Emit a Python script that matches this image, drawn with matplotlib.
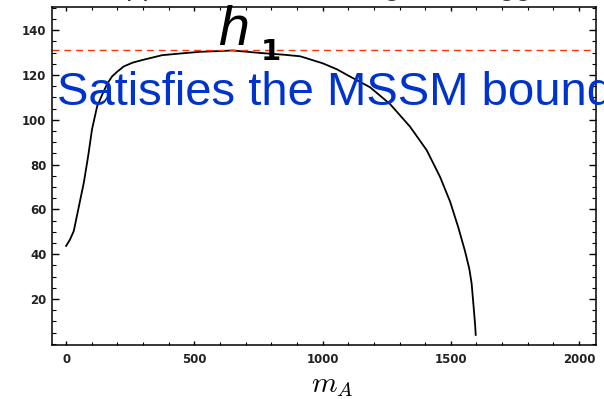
import numpy as np
import matplotlib
matplotlib.use("Agg")
import matplotlib.pyplot as plt
from matplotlib.ticker import MultipleLocator


# upper bound on lightest higgs mass vs m_A
m_A = [0, 15, 30, 47, 69, 86, 101, 121, 140, 160, 179, 200, 225, 260, 296,
       374, 450, 520, 650, 756, 850, 913, 1000, 1056, 1100, 1185, 1263, 1341,
       1406, 1458, 1497, 1529, 1555, 1572, 1581, 1590, 1595, 1597]
m_h1 = [43.7, 46.5, 50.4, 59.8, 71.9, 83.8, 95.7, 106, 111, 116, 119.3, 121.5,
        123.8, 125.5, 126.6, 128.8, 129.6, 130.3, 130.9, 129.8, 129.0, 128.3,
        125.2, 122.5, 119.7, 114.5, 107.0, 96.9, 86.4, 74.5, 63.5, 52, 41.5,
        33.5, 27, 15, 8, 4]
mssm_bound = 131.0

x_ticks = [0, 500, 1000, 1500, 2000]
y_ticks = [20, 40, 60, 80, 100, 120, 140]

W, H = 604, 399
fig = plt.figure(figsize=(W / 100, H / 100), dpi=100)
ax = fig.add_axes([52 / W, 1 - 345 / H, (596 - 52) / W, (345 - 7) / H])

ax.plot(m_A, m_h1, color='black', lw=1.3)
ax.axhline(mssm_bound, color='#ff3300', lw=1.0, ls=(0, (5, 3.5)))

ax.set_xlim(-55, 2066)
ax.set_ylim(-0.5, 150.3)
ax.set_xticks(x_ticks)
ax.set_yticks(y_ticks)
ax.xaxis.set_minor_locator(MultipleLocator(100))
ax.yaxis.set_minor_locator(MultipleLocator(5))

for s in ax.spines.values():
    s.set_linewidth(1.1)

ax.tick_params(axis='x', which='major', direction='in', length=3, width=1.0,
               top=True, pad=6)
ax.tick_params(axis='x', which='minor', direction='in', length=2, width=0.8,
               top=True)
ax.tick_params(axis='y', which='major', direction='in', length=5, width=1.0,
               right=True, pad=4)
ax.tick_params(axis='y', which='minor', direction='in', length=3, width=0.8,
               right=True)
for lab in ax.get_xticklabels() + ax.get_yticklabels():
    lab.set_fontsize(8.5)
    lab.set_fontweight('bold')
    lab.set_color('#222222')

plt.rcParams['mathtext.fontset'] = 'cm'
fig.text(311 / W, 1 - 392 / H, r'$m_A$', fontsize=21, va='baseline', ha='left')

# title, mostly cut off at the top
fig.text(105 / W, 1 + 5 / H, 'Upper bound on the lightest Higgs mass',
         fontsize=21, family='Liberation Sans', va='baseline', ha='left',
         color='#333333')

fig.text(218 / W, 1 - 45 / H, 'h', fontsize=40, style='italic',
         family='Liberation Sans', va='baseline', ha='left')
fig.text(261 / W, 1 - 60 / H, '1', fontsize=21, family='DejaVu Sans',
         fontweight='bold', va='baseline', ha='left')

fig.text(57 / W, 1 - 105 / H, 'Satisfies the MSSM bound', fontsize=34,
         family='Liberation Sans', color='#0033cc', va='baseline', ha='left')

fig.savefig('out.png', dpi=100)
